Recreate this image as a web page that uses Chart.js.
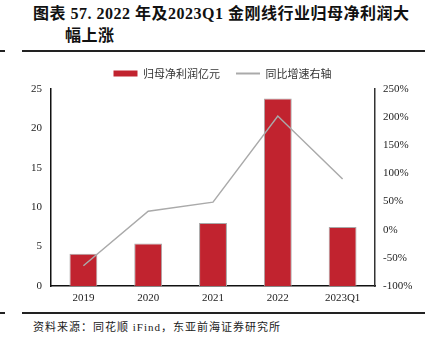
<!DOCTYPE html>
<html>
<head>
<meta charset="utf-8">
<script src="https://cdn.jsdelivr.net/npm/chart.js@4"></script>
<style>
  body { margin: 0; width: 429px; height: 340px; background: #fff; position: relative; overflow: hidden; font-family: "Liberation Serif", "Noto Sans CJK SC", serif; }
  .title { position: absolute; left: 33px; top: 3px; font-size: 16px; font-weight: bold; color: #111; line-height: 22px; white-space: nowrap; letter-spacing: 0.5px; }
  .title .l2 { padding-left: 32px; }
  .rule { position: absolute; height: 1.5px; background: #222; }
  .source { position: absolute; left: 33px; top: 318px; font-size: 11px; color: #222; white-space: nowrap; letter-spacing: 1px; }
  #wrap { position: absolute; left: 0; top: 52px; width: 429px; height: 258px; }
</style>
</head>
<body>
<div class="title">图表 57. 2022 年及2023Q1 金刚线行业归母净利润大<br><span class="l2">幅上涨</span></div>
<div class="rule" style="left:0;width:5px;top:50px"></div>
<div class="rule" style="left:22px;width:403px;top:50px"></div>
<div class="rule" style="left:0;width:5px;top:312px"></div>
<div class="rule" style="left:22px;width:403px;top:312px"></div>
<div class="source">资料来源：同花顺 iFind，东亚前海证券研究所</div>
<div id="wrap"><canvas id="c"></canvas></div>
<script>
const years = ['2019', '2020', '2021', '2022', '2023Q1'];
const profit = [4.1, 5.4, 8.0, 23.8, 7.5];        // 归母净利润 亿元
const growth = [-64, 33, 49, 202, 90];            // 同比增速 %
const leftTicks = [0, 5, 10, 15, 20, 25];
const rightTicks = [-100, -50, 0, 50, 100, 150, 200, 250];

const font = { family: "'Liberation Serif', 'Noto Sans CJK SC', serif", size: 11 };

// fix legend block height so the plot area lands where the reference has it
const legendHeight = {
    id: 'legendHeight',
    beforeInit(chart) {
        const fit = chart.legend.fit;
        chart.legend.fit = function () {
            fit.bind(chart.legend)();
            this.height = 37;
        };
    }
};

new Chart(document.getElementById('c'), {
    data: {
        labels: years,
        datasets: [{
            type: 'line',
            label: '同比增速右轴',
            data: growth,
            yAxisID: 'y1',
            borderColor: '#aaaaaa',
            backgroundColor: '#aaaaaa',
            borderWidth: 1.5,
            pointRadius: 0,
            tension: 0,
            order: 0
        }, {
            type: 'bar',
            label: '归母净利润亿元',
            data: profit,
            yAxisID: 'y',
            backgroundColor: '#c1232f',
            borderColor: '#a8a8a8',
            borderWidth: 1,
            barPercentage: 0.43,
            categoryPercentage: 1,
            order: 1
        }]
    },
    plugins: [legendHeight],
    options: {
        responsive: true,
        maintainAspectRatio: false,
        animation: false,
        layout: { padding: { left: 16 } },
        plugins: {
            legend: {
                display: true,
                reverse: true,
                labels: {
                    font: { family: "'Noto Sans CJK SC', sans-serif", size: 11 },
                    color: '#333',
                    usePointStyle: true,
                    pointStyleWidth: 24,
                    boxHeight: 6,
                    padding: 16,
                    generateLabels(chart) {
                        const items = Chart.defaults.plugins.legend.labels.generateLabels(chart);
                        items.forEach(it => {
                            if (it.text === '同比增速右轴') {
                                it.pointStyle = 'line';
                                it.lineWidth = 2;
                                it.strokeStyle = '#aaaaaa';
                            } else {
                                it.pointStyle = 'rect';
                                it.lineWidth = 0;
                            }
                        });
                        return items;
                    }
                }
            },
            tooltip: { enabled: false }
        },
        scales: {
            x: {
                grid: { display: false, drawTicks: false },
                border: { color: '#111', width: 1.5 },
                ticks: { font: font, color: '#222', padding: 6 },
                afterFit(s) { s.height = 24; }
            },
            y: {
                position: 'left',
                min: 0, max: 25,
                afterBuildTicks(s) { s.ticks = leftTicks.map(v => ({ value: v })); },
                grid: { display: false, drawOnChartArea: false, drawTicks: true, tickLength: 4, color: '#111' },
                border: { color: '#111', width: 1.5 },
                ticks: { font: font, color: '#222', padding: 5 },
                afterFit(s) { s.width = 35; }
            },
            y1: {
                position: 'right',
                min: -100, max: 250,
                afterBuildTicks(s) { s.ticks = rightTicks.map(v => ({ value: v })); },
                grid: { display: false, drawOnChartArea: false, drawTicks: true, tickLength: 3, color: '#333' },
                border: { color: '#333', width: 1.5 },
                ticks: { font: font, color: '#222', padding: 5, callback: v => v + '%' },
                afterFit(s) { s.width = 54; }
            }
        }
    }
});
</script>
</body>
</html>
